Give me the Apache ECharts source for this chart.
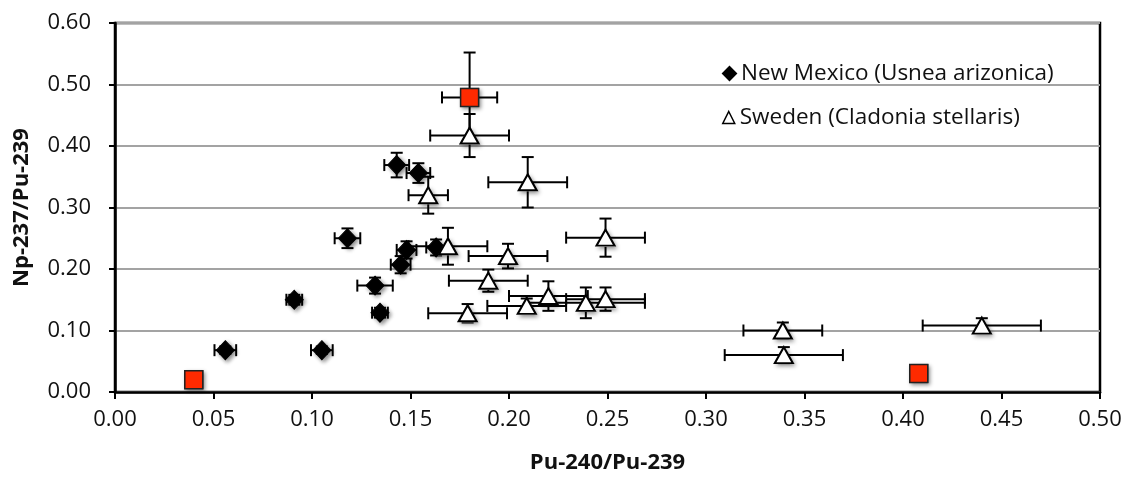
<!DOCTYPE html>
<html>
<head>
<meta charset="utf-8">
<script src="https://cdn.jsdelivr.net/npm/echarts@6/dist/echarts.min.js"></script>
<style>
  html, body { margin: 0; padding: 0; background: #fff; }
  #main { width: 1125px; height: 479px; }
</style>
</head>
<body>
<div id="main"></div>
<script>
"use strict";
// New Mexico (black diamonds)
let nmX = [0.056, 0.091, 0.105, 0.118, 0.132, 0.1345, 0.143, 0.145, 0.148, 0.154, 0.163];
let nmY = [0.068, 0.150, 0.068, 0.250, 0.173, 0.129, 0.369, 0.207, 0.231, 0.356, 0.235];
let nmXErr = [0.0055, 0.004, 0.0055, 0.0065, 0.009, 0.004, 0.0063, 0.005, 0.005, 0.006, 0.005];
let nmYErr = [0.006, 0.008, 0.006, 0.016, 0.013, 0.008, 0.02, 0.014, 0.014, 0.016, 0.013];

// Sweden (open triangles)
let swX = [0.180, 0.2095, 0.159, 0.249, 0.169, 0.1995, 0.1895, 0.179, 0.209, 0.220, 0.239, 0.249, 0.339, 0.3395, 0.440];
let swY = [0.417, 0.341, 0.320, 0.251, 0.237, 0.221, 0.181, 0.128, 0.140, 0.156, 0.145, 0.151, 0.100, 0.060, 0.108];
let swXErr = [0.02, 0.02, 0.01, 0.02, 0.02, 0.02, 0.02, 0.02, 0.02, 0.02, 0.03, 0.02, 0.02, 0.03, 0.03];
let swYErr = [0.035, 0.041, 0.03, 0.031, 0.03, 0.02, 0.018, 0.015, 0.012, 0.024, 0.025, 0.019, 0.013, 0.013, 0.012];

// red squares
let rsX = [0.040, 0.180, 0.408];
let rsY = [0.020, 0.479, 0.030];
let rsXErr = [0, 0.014, 0];
let rsYErr = [0, 0.073, 0];

let nmName = 'New Mexico (Usnea arizonica)';
let swName = 'Sweden (Cladonia stellaris)';

function pts(xs, ys) {
    let out = [];
    for (let i = 0; i < xs.length; i++) out.push([xs[i], ys[i]]);
    return out;
}
function errs(xs, ys, ex, ey) {
    let out = [];
    for (let i = 0; i < xs.length; i++) out.push([xs[i], ys[i], ex[i], ey[i]]);
    return out;
}

// error bars drawn through the axes' scales
function renderErr(params, api) {
    let x = api.value(0), y = api.value(1), ex = api.value(2), ey = api.value(3);
    let cap = 6;
    let st = { stroke: '#000', lineWidth: 2 };
    let kids = [];
    if (ex > 0) {
        let a = api.coord([x - ex, y]), b = api.coord([x + ex, y]);
        kids.push({ type: 'line', shape: { x1: a[0], y1: a[1], x2: b[0], y2: b[1] }, style: st });
        kids.push({ type: 'line', shape: { x1: a[0], y1: a[1] - cap, x2: a[0], y2: a[1] + cap }, style: st });
        kids.push({ type: 'line', shape: { x1: b[0], y1: b[1] - cap, x2: b[0], y2: b[1] + cap }, style: st });
    }
    if (ey > 0) {
        let a = api.coord([x, y - ey]), b = api.coord([x, y + ey]);
        kids.push({ type: 'line', shape: { x1: a[0], y1: a[1], x2: b[0], y2: b[1] }, style: st });
        kids.push({ type: 'line', shape: { x1: a[0] - cap, y1: a[1], x2: a[0] + cap, y2: a[1] }, style: st });
        kids.push({ type: 'line', shape: { x1: b[0] - cap, y1: b[1], x2: b[0] + cap, y2: b[1] }, style: st });
    }
    return { type: 'group', children: kids };
}

let shadow = { shadowBlur: 4, shadowOffsetX: 2, shadowOffsetY: 2, shadowColor: 'rgba(0,0,0,0.45)' };
let font = "'Open Sans', sans-serif";
let noShadow = { shadowBlur: 0, shadowOffsetX: 0, shadowOffsetY: 0 };

let myChart = echarts.init(document.getElementById('main'));
let option = {
    animation: false,
    textStyle: { fontFamily: font },
    grid: { left: 115, right: 25, top: 23, bottom: 84, show: true, borderColor: '#000', borderWidth: 2.5 },
    legend: [{
        data: [nmName], left: 722, top: 62, padding: 0, icon: 'diamond',
        itemWidth: 13, itemHeight: 13, itemGap: 5,
        itemStyle: noShadow,
        textStyle: { fontFamily: font, fontSize: 22.5, color: '#111' }
    }, {
        data: [swName], left: 722, top: 106, padding: 0, icon: 'triangle',
        itemWidth: 12, itemHeight: 12,
        itemStyle: Object.assign({ borderWidth: 1.5 }, noShadow),
        textStyle: { fontFamily: font, fontSize: 22.5, color: '#111' }
    }],
    xAxis: {
        type: 'value', min: 0, max: 0.5, interval: 0.05,
        name: 'Pu-240/Pu-239', nameLocation: 'middle', nameGap: 60,
        nameTextStyle: { fontFamily: font, fontSize: 22, fontWeight: 'bold', color: '#111' },
        axisLine: { lineStyle: { color: '#000', width: 2.5 } },
        axisTick: { show: true, length: 7, lineStyle: { color: '#000', width: 2 } },
        axisLabel: { fontSize: 22, color: '#111', margin: 17, formatter: v => v.toFixed(2) },
        splitLine: { show: false }
    },
    yAxis: {
        type: 'value', min: 0, max: 0.6, interval: 0.1,
        name: 'Np-237/Pu-239', nameLocation: 'middle', nameGap: 82,
        nameTextStyle: { fontFamily: font, fontSize: 22, fontWeight: 'bold', color: '#111' },
        axisLine: { show: true, lineStyle: { color: '#000', width: 2.5 } },
        axisTick: { show: true, length: 6, lineStyle: { color: '#000', width: 2 } },
        axisLabel: { fontSize: 22, color: '#111', margin: 24, formatter: v => v.toFixed(2) },
        splitLine: { show: true, lineStyle: { color: '#a3a3a3', width: 2 } }
    },
    series: [
        { type: 'custom', name: 'nmErr', renderItem: renderErr, data: errs(nmX, nmY, nmXErr, nmYErr), encode: { x: 0, y: 1 }, z: 1, silent: true },
        { type: 'custom', name: 'swErr', renderItem: renderErr, data: errs(swX, swY, swXErr, swYErr), encode: { x: 0, y: 1 }, z: 1, silent: true },
        { type: 'custom', name: 'rsErr', renderItem: renderErr, data: errs(rsX, rsY, rsXErr, rsYErr), encode: { x: 0, y: 1 }, z: 1, silent: true },
        {
            type: 'scatter', name: nmName, data: pts(nmX, nmY), symbol: 'diamond', symbolSize: [18, 19], z: 3,
            itemStyle: Object.assign({ color: '#000', borderColor: '#000', borderWidth: 1, opacity: 1 }, shadow)
        },
        // shadow layer under the open triangles
        {
            type: 'scatter', name: 'swShadow', data: pts(swX, swY), symbol: 'triangle', symbolSize: [20, 18], z: 4, silent: true,
            itemStyle: Object.assign({ color: '#fff', opacity: 1 }, shadow)
        },
        {
            type: 'scatter', name: swName, data: pts(swX, swY), symbol: 'triangle', symbolSize: [18, 16], z: 4,
            itemStyle: Object.assign({ color: '#fff', borderColor: '#000', borderWidth: 2, opacity: 1 }, noShadow)
        },
        {
            type: 'scatter', name: 'redShadow', data: pts(rsX, rsY), symbol: 'rect', symbolSize: 19, z: 5, silent: true,
            itemStyle: Object.assign({ color: '#222', opacity: 1 }, shadow)
        },
        {
            type: 'scatter', name: 'red', data: pts(rsX, rsY), symbol: 'rect', symbolSize: 18, z: 5,
            itemStyle: Object.assign({ color: '#ff2a00', borderColor: '#222', borderWidth: 1.5, opacity: 1 }, noShadow)
        }
    ]
};
myChart.setOption(option);
</script>
</body>
</html>
